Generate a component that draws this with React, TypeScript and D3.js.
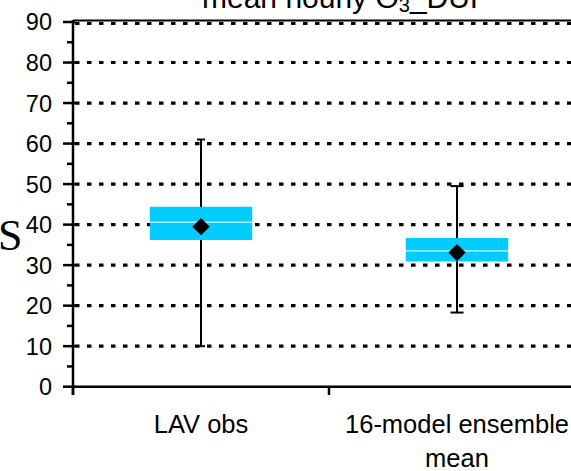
import React from "react";
import * as d3 from "d3";

// Categories and box statistics (ppbv)
const categories = ["LAV obs", "16-model ensemble mean"];
const whiskerHigh = [61, 49.5];
const boxHigh = [44.4, 36.7];
const median = [40.6, 33.5];
const mean = [39.5, 33.1];
const boxLow = [36.2, 30.9];
const whiskerLow = [10, 18.3];
const yTicks = [0, 10, 20, 30, 40, 50, 60, 70, 80, 90];
const yMinorTicks = [5, 15, 25, 35, 45, 55, 65, 75, 85];
const gridValues = [10, 20, 30, 40, 50, 60, 70, 80, 90];

const W = 571;
const H = 471;
const capHalf = [4, 6.5];

export default function App() {
  const x = d3.scaleBand<string>().domain(categories).range([73, 585]).paddingInner(0).paddingOuter(0);
  const y = d3.scaleLinear().domain([0, 90]).range([386.7, 22]);
  const bw = x.bandwidth();
  const boxW = bw * 0.4;
  const font = "Arial, 'Liberation Sans', sans-serif";

  const diamond = d3.symbol().type(d3.symbolDiamond2).size(190)();

  return (
    <svg
      width={W}
      height={H}
      style={{ position: "absolute", left: 0, top: 0, background: "#fff" }}
      fontFamily={font}
    >
      {/* title */}
      <text x={202} y={8} fontSize={30} fill="#000">
        mean hourly O<tspan fontSize={20} dy={4}>3</tspan>
        <tspan dy={-4}>_DUF</tspan>
      </text>

      {/* truncated axis title */}
      <text x={-2} y={250} fontSize={44} fontFamily="'Liberation Serif', 'DejaVu Serif', serif" fill="#000">
        S
      </text>

      {/* plot border top */}
      <line x1={73} x2={W} y1={20.5} y2={20.5} stroke="#000" strokeWidth={2} />

      {/* dotted gridlines */}
      {gridValues.map((v) => (
        <line
          key={v}
          x1={75}
          x2={W}
          y1={y(v) + (v === 90 ? 1.5 : 0)}
          y2={y(v) + (v === 90 ? 1.5 : 0)}
          stroke="#000"
          strokeWidth={3.2}
          strokeDasharray="4.5 7.5"
        />
      ))}

      {/* boxes, whiskers, means */}
      {categories.map((c, i) => {
        const cx = (x(c) as number) + bw / 2;
        return (
          <g key={c}>
            <line x1={cx} x2={cx} y1={y(whiskerHigh[i])} y2={y(whiskerLow[i])} stroke="#000" strokeWidth={2} />
            <line x1={cx - capHalf[i]} x2={cx + capHalf[i]} y1={y(whiskerHigh[i])} y2={y(whiskerHigh[i])} stroke="#000" strokeWidth={2} />
            <line x1={cx - capHalf[i]} x2={cx + capHalf[i]} y1={y(whiskerLow[i])} y2={y(whiskerLow[i])} stroke="#000" strokeWidth={2} />
            <rect
              x={cx - boxW / 2}
              width={boxW}
              y={y(boxHigh[i])}
              height={y(boxLow[i]) - y(boxHigh[i])}
              fill="#00CCFF"
            />
            <line x1={cx - boxW / 2} x2={cx + boxW / 2} y1={y(median[i])} y2={y(median[i])} stroke="#fff" strokeWidth={1} />
            <path d={diamond as string} transform={`translate(${cx},${y(mean[i])})`} fill="#000" />
          </g>
        );
      })}

      {/* y axis */}
      <line x1={73} x2={73} y1={20} y2={395} stroke="#000" strokeWidth={2.5} />
      {yTicks.map((t) => (
        <g key={t}>
          <line x1={63} x2={75} y1={y(t)} y2={y(t)} stroke="#000" strokeWidth={2.5} />
          <text x={52} y={y(t)} dy="0.36em" textAnchor="end" fontSize={23.5} fill="#000">
            {t}
          </text>
        </g>
      ))}
      {yMinorTicks.map((t) => (
        <line key={t} x1={67} x2={73} y1={y(t)} y2={y(t)} stroke="#000" strokeWidth={2.5} />
      ))}

      {/* x axis */}
      <line x1={73} x2={W} y1={y(0)} y2={y(0)} stroke="#000" strokeWidth={2.5} />
      {[73, 73 + bw].map((tx) => (
        <line key={tx} x1={tx} x2={tx} y1={y(0)} y2={395} stroke="#000" strokeWidth={2.5} />
      ))}
      {categories.map((c) => {
        const cx = (x(c) as number) + bw / 2;
        const words = c === "16-model ensemble mean" ? ["16-model ensemble", "mean"] : [c];
        return (
          <text key={c} x={cx} y={433} textAnchor="middle" fontSize={25.5} fill="#000">
            {words.map((w, j) => (
              <tspan key={j} x={cx} dy={j === 0 ? 0 : 34}>
                {w}
              </tspan>
            ))}
          </text>
        );
      })}
    </svg>
  );
}
